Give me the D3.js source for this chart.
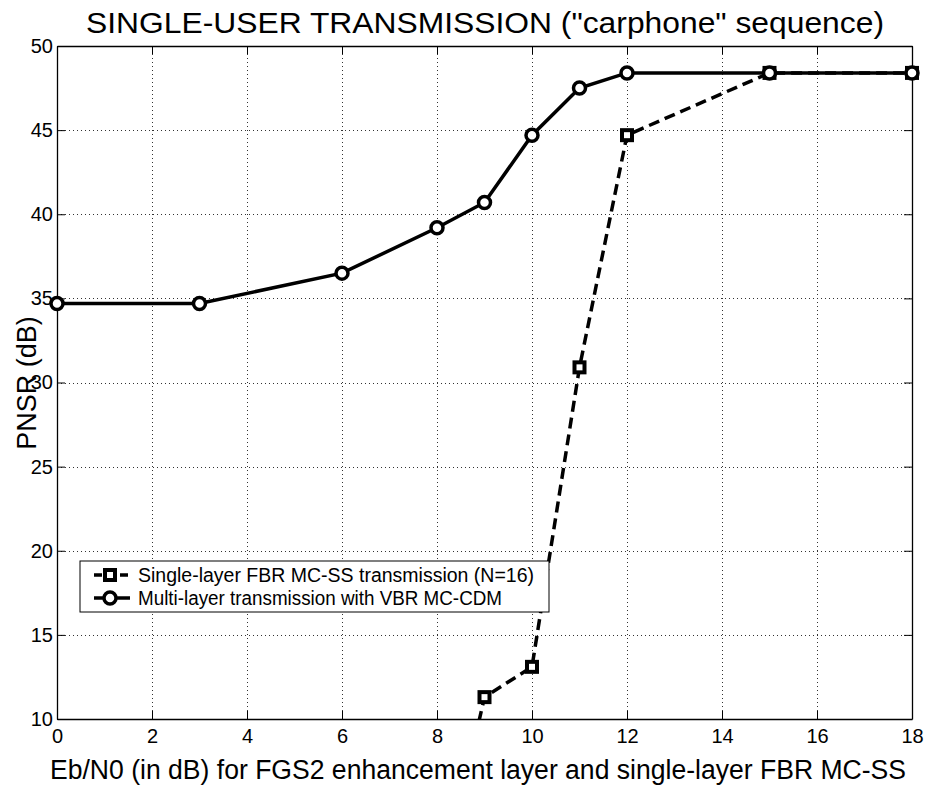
<!DOCTYPE html>
<html>
<head>
<meta charset="utf-8">
<script src="https://d3js.org/d3.v7.min.js"></script>
<style>
  body { margin: 0; background: #fff; }
  text { font-family: "Liberation Sans", Arial, sans-serif; fill: #000; }
</style>
</head>
<body>
<div id="chart"></div>
<script>
// Data
var xTicks = [0, 2, 4, 6, 8, 10, 12, 14, 16, 18];
var yTicks = [10, 15, 20, 25, 30, 35, 40, 45, 50];

var singleX = [8, 9, 10, 11, 12, 15, 18];
var singleY = [-1, 11.3, 13.1, 30.9, 44.7, 48.4, 48.4];

var multiX = [0, 3, 6, 8, 9, 10, 11, 12, 15, 18];
var multiY = [34.7, 34.7, 36.5, 39.2, 40.7, 44.7, 47.5, 48.4, 48.4, 48.4];

var legendLabels = [
  "Single-layer FBR MC-SS transmission (N=16)",
  "Multi-layer transmission with VBR MC-CDM"
];

// create SVG element and group
var svgWidth = 926;
var svgHeight = 792;

var margin = {
  top: 46,
  right: 14,
  bottom: 73,
  left: 57
};

var width = svgWidth - margin.left - margin.right;
var height = svgHeight - margin.top - margin.bottom;

var svg = d3.select("#chart")
  .append("svg")
  .attr("width", svgWidth)
  .attr("height", svgHeight);

var chartGroup = svg.append("g")
  .attr("transform", `translate(${margin.left}, ${margin.top})`);

var xScale = d3.scaleLinear().domain([0, 18]).range([0, width]);
var yScale = d3.scaleLinear().domain([10, 50]).range([height, 0]);

svg.append("defs").append("clipPath")
  .attr("id", "plotClip")
  .append("rect")
  .attr("width", width)
  .attr("height", height);

// dotted grid
var grid = chartGroup.append("g")
  .attr("stroke", "#333")
  .attr("stroke-width", 1)
  .attr("stroke-dasharray", "1,3")
  .attr("shape-rendering", "crispEdges");

grid.selectAll("line.gx")
  .data(xTicks.slice(1, -1))
  .join("line")
  .attr("class", "gx")
  .attr("x1", d => Math.round(xScale(d)) + 0.5).attr("x2", d => Math.round(xScale(d)) + 0.5)
  .attr("y1", 0).attr("y2", height);

grid.selectAll("line.gy")
  .data(yTicks.slice(1, -1))
  .join("line")
  .attr("class", "gy")
  .attr("y1", d => Math.round(yScale(d)) + 0.5).attr("y2", d => Math.round(yScale(d)) + 0.5)
  .attr("x1", 0).attr("x2", width);

// axes, ticks pointing inward on all four sides
var bottomAxis = d3.axisBottom(xScale).tickValues(xTicks).tickSize(-8).tickPadding(12).tickSizeOuter(0);
var topAxis = d3.axisTop(xScale).tickValues(xTicks).tickSize(-8).tickFormat("").tickSizeOuter(0);
var leftAxis = d3.axisLeft(yScale).tickValues(yTicks).tickSize(-8).tickPadding(12).tickSizeOuter(0);
var rightAxis = d3.axisRight(yScale).tickValues(yTicks).tickSize(-8).tickFormat("").tickSizeOuter(0);

chartGroup.append("g").attr("class", "xb").attr("transform", `translate(0, ${height})`).call(bottomAxis);
chartGroup.append("g").call(topAxis);
chartGroup.append("g").attr("class", "yl").call(leftAxis);
chartGroup.append("g").attr("transform", `translate(${width}, 0)`).call(rightAxis);

chartGroup.selectAll(".domain").attr("stroke", "#000").attr("stroke-width", 1.3);
chartGroup.selectAll(".tick line").attr("stroke", "#000").attr("stroke-width", 1);
chartGroup.selectAll(".tick text")
  .attr("font-size", 20)
  .attr("font-family", "Liberation Sans, Arial, sans-serif");

chartGroup.selectAll(".yl .tick text").attr("x", -4);
chartGroup.selectAll(".xb .tick text").attr("y", 10);

// series lines
var line = d3.line()
  .x(d => xScale(d[0]))
  .y(d => yScale(d[1]));

var singleData = singleX.map((x, i) => [x, singleY[i]]);
var multiData = multiX.map((x, i) => [x, multiY[i]]);

var plot = chartGroup.append("g").attr("clip-path", "url(#plotClip)");

plot.append("path")
  .datum(singleData)
  .attr("d", line)
  .attr("fill", "none")
  .attr("stroke", "#000")
  .attr("stroke-width", 3.5)
  .attr("stroke-dasharray", "11,6");

plot.append("path")
  .datum(multiData)
  .attr("d", line)
  .attr("fill", "none")
  .attr("stroke", "#000")
  .attr("stroke-width", 3.5);

// markers (not clipped so the ones on the frame show fully)
var markers = chartGroup.append("g");

markers.selectAll("rect")
  .data(singleData.filter(d => d[1] >= 10))
  .join("rect")
  .attr("x", d => xScale(d[0]) - 5)
  .attr("y", d => yScale(d[1]) - 5)
  .attr("width", 10)
  .attr("height", 10)
  .attr("fill", "#fff")
  .attr("stroke", "#000")
  .attr("stroke-width", 4);

markers.selectAll("circle")
  .data(multiData)
  .join("circle")
  .attr("cx", d => xScale(d[0]))
  .attr("cy", d => yScale(d[1]))
  .attr("r", 6)
  .attr("fill", "#fff")
  .attr("stroke", "#000")
  .attr("stroke-width", 3.5);

// legend
var legend = svg.append("g").attr("transform", "translate(80, 561)");

legend.append("rect")
  .attr("width", 469)
  .attr("height", 51)
  .attr("fill", "#fff")
  .attr("stroke", "#000")
  .attr("stroke-width", 1);

var rows = legend.selectAll("g.row")
  .data(legendLabels)
  .join("g")
  .attr("class", "row")
  .attr("transform", (d, i) => `translate(0, ${14 + i * 23})`);

rows.append("line")
  .attr("x1", 14).attr("x2", 50)
  .attr("y1", 0).attr("y2", 0)
  .attr("stroke", "#000")
  .attr("stroke-width", 3.5)
  .attr("stroke-dasharray", (d, i) => i === 0 ? "8,5" : null);

rows.filter((d, i) => i === 0).append("rect")
  .attr("x", 25).attr("y", -5)
  .attr("width", 10).attr("height", 10)
  .attr("fill", "#fff").attr("stroke", "#000").attr("stroke-width", 4);

rows.filter((d, i) => i === 1).append("circle")
  .attr("cx", 30).attr("cy", 0).attr("r", 6)
  .attr("fill", "#fff").attr("stroke", "#000").attr("stroke-width", 3.5);

rows.append("text")
  .attr("x", 58)
  .attr("dy", "0.35em")
  .attr("font-size", 20)
  .attr("textLength", (d, i) => i === 0 ? 396 : 364)
  .attr("lengthAdjust", "spacingAndGlyphs")
  .text(d => d);

// add axis and chart titles
svg.append("text")
  .attr("x", 485)
  .attr("y", 33)
  .attr("text-anchor", "middle")
  .attr("font-size", 29)
  .attr("textLength", 798)
  .attr("lengthAdjust", "spacingAndGlyphs")
  .text('SINGLE-USER TRANSMISSION ("carphone" sequence)');

svg.append("text")
  .attr("x", 478)
  .attr("y", 779)
  .attr("text-anchor", "middle")
  .attr("font-size", 27)
  .attr("textLength", 856)
  .attr("lengthAdjust", "spacingAndGlyphs")
  .text("Eb/N0 (in dB) for FGS2 enhancement layer and single-layer FBR MC-SS");

svg.append("text")
  .attr("transform", "translate(36, 383) rotate(-90)")
  .attr("text-anchor", "middle")
  .attr("font-size", 27)
  .text("PNSR (dB)");
</script>
</body>
</html>
